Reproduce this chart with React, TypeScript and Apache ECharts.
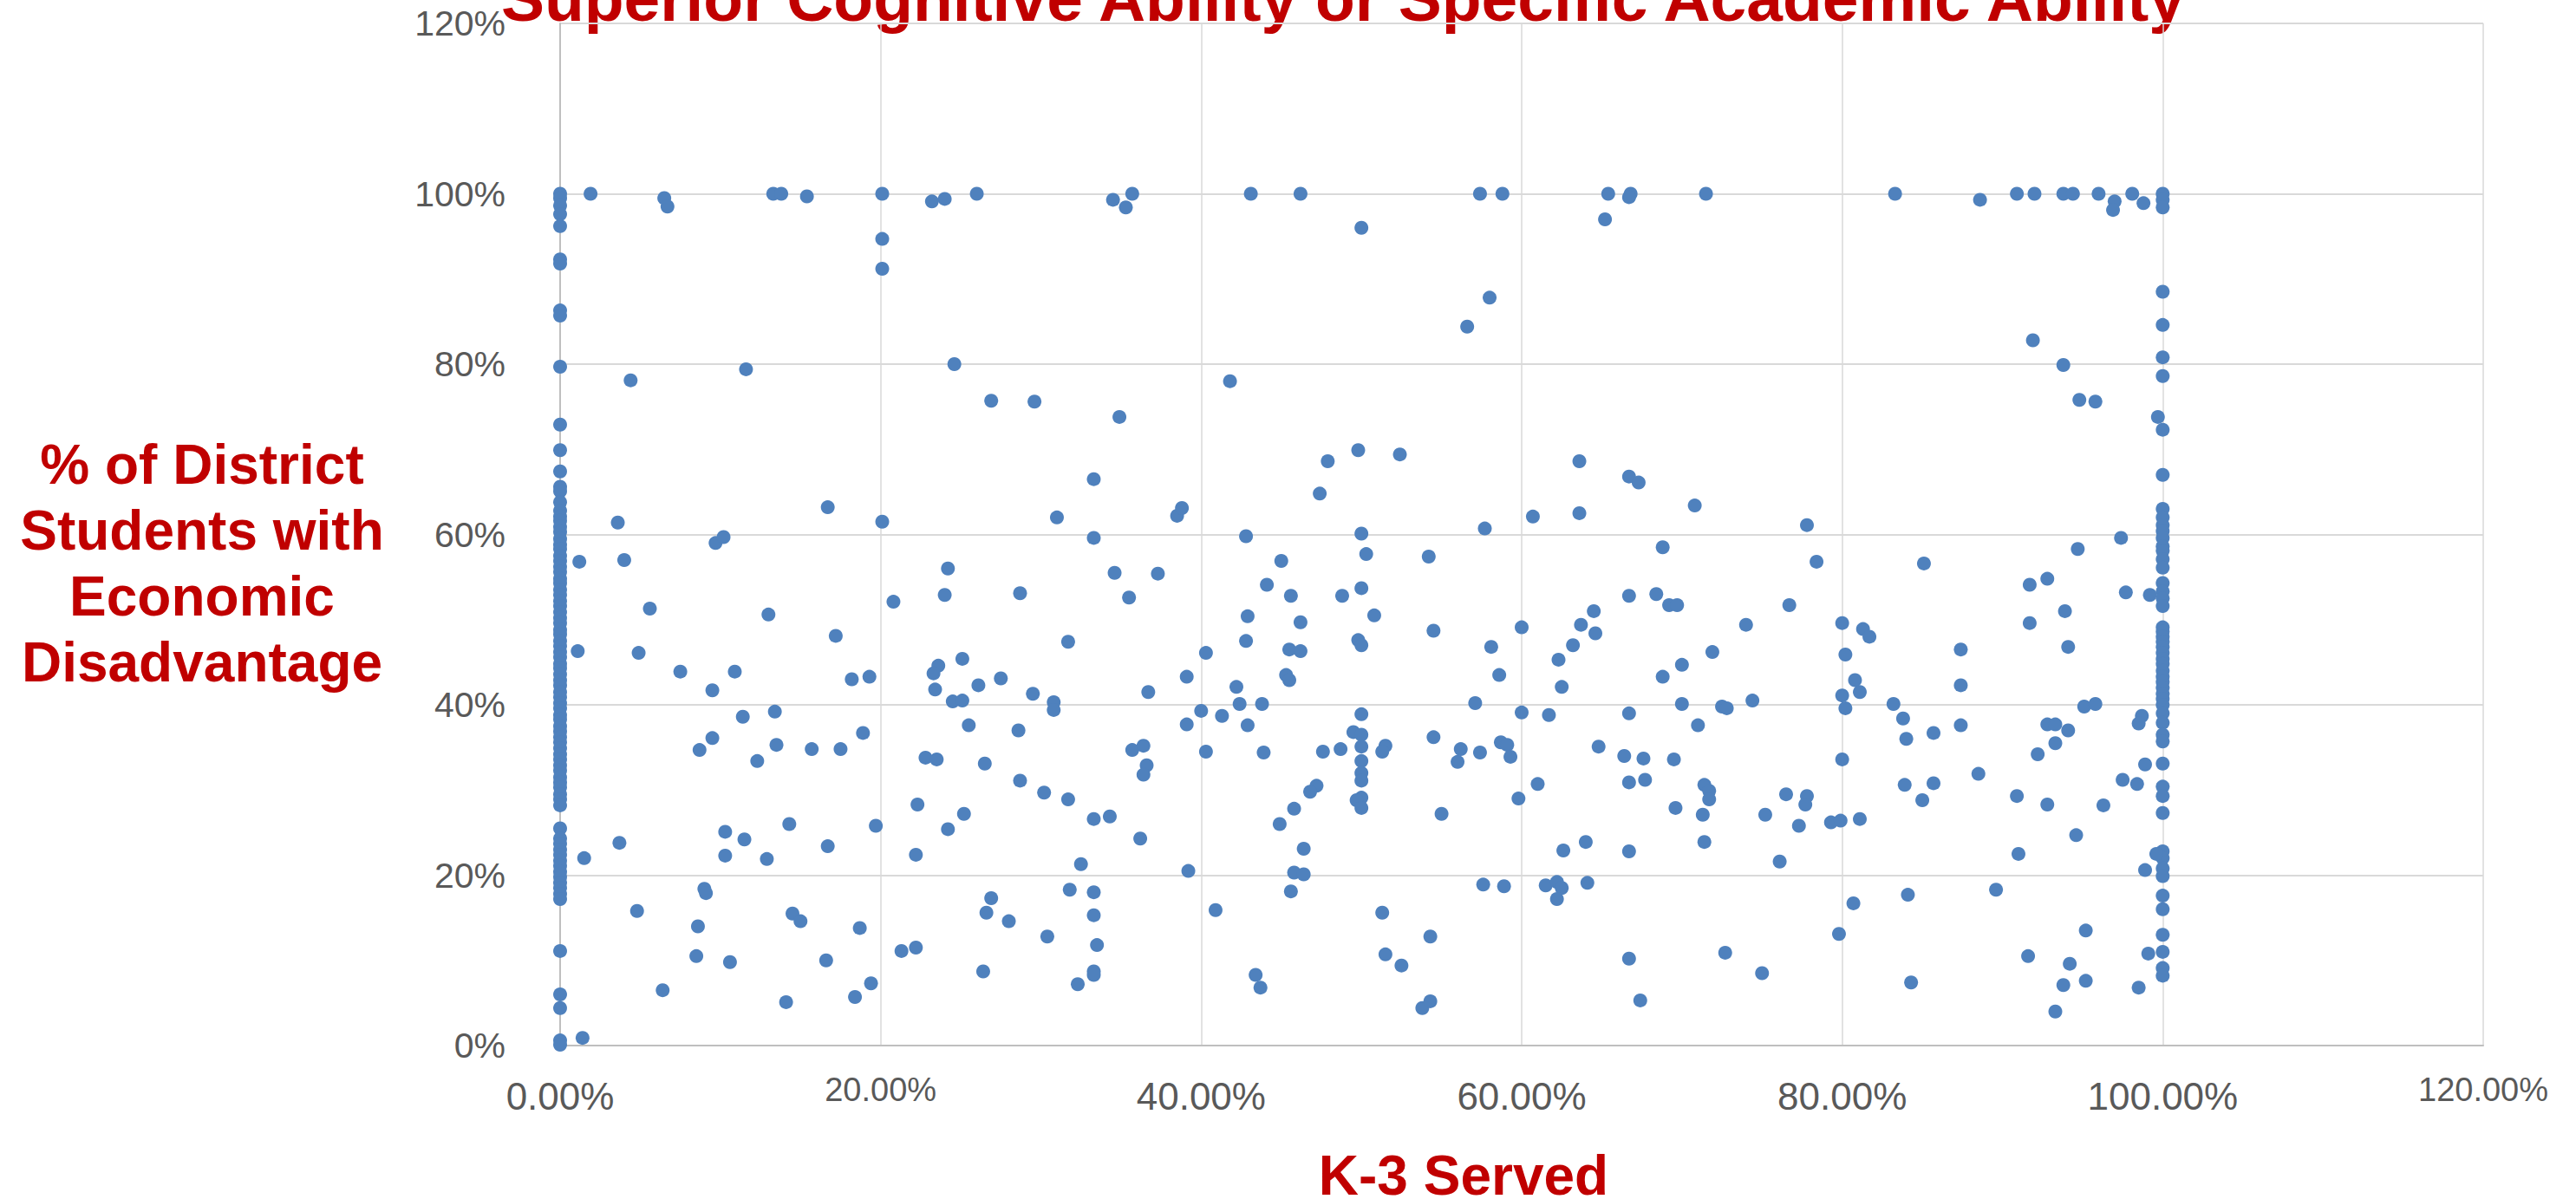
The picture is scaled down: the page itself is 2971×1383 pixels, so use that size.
import React, { useEffect, useRef } from "react";
import * as echarts from "echarts";

// ---------- DATA ----------
const chartTitle = "Superior Cognitive Ability or Specific Academic Ability";
const xAxisTitle = "K-3 Served";
const yAxisTitle = "% of District\nStudents with\nEconomic\nDisadvantage";

const xTickLabels = ["0.00%", "20.00%", "40.00%", "60.00%", "80.00%", "100.00%", "120.00%"];
const xSmallTicks = ["20.00%", "120.00%"];
const yTickLabels = ["0%", "20%", "40%", "60%", "80%", "100%", "120%"];

// Districts with 0% K-3 served: % economically disadvantaged
const zeroServed: number[] = [
  100, 99.5, 98.6, 97.6, 96.2, 92.3, 91.8, 86.3, 85.7, 79.7, 72.9, 69.9, 67.4, 65.6, 65.1, 63.8,
  62.8, 62.1, 61.6, 60.9, 60.3, 59.5, 58.8, 58.3, 57.5, 56.9, 56.2, 55.6, 54.8, 54.3, 53.5, 52.9,
  52.2, 51.6, 50.9, 50.2, 49.6, 48.8, 48.3, 47.5, 46.9, 46.2, 45.6, 44.8, 44.3, 43.6, 42.9, 42.3,
  41.5, 40.9, 40.2, 39.6, 38.8, 38.3, 37.5, 36.9, 36.2, 35.6, 34.9, 34.2, 33.6, 32.9, 32.3, 31.5,
  30.9, 30.3, 29.5, 28.9, 28.2, 25.5, 24.3, 23.7, 23.0, 22.4, 21.7, 21.1, 20.4, 19.8, 19.1, 18.5,
  17.8, 17.2, 11.1, 6.0, 4.4, 0.6, 0.1,
];

// Districts with 100% K-3 served
const fullServed: number[] = [
  100, 99.3, 98.4, 88.5, 84.6, 80.8, 78.6, 72.3, 67.0, 63.0, 62.0, 61.1, 60.4, 59.6, 58.6, 58.1,
  57.1, 56.1, 54.3, 53.3, 52.5, 51.6, 49.1, 48.6, 48.0, 47.4, 46.8, 46.1, 45.4, 44.8, 44.0, 43.3,
  42.7, 42.0, 41.3, 40.7, 40.0, 39.0, 37.9, 36.5, 35.7, 33.1, 30.4, 29.3, 27.3, 22.8, 22.0, 20.8,
  19.9, 17.6, 16.0, 13.0, 11.0, 9.1, 8.2,
];

// Districts with partial K-3 service, [K-3 served %, econ. disadvantaged %], 0-41%
const partialLow: number[][] = [
  [1.9, 100], [6.5, 99.5], [6.7, 98.5], [13.3, 100], [13.8, 100], [15.4, 99.7], [20.1, 100], [23.2, 99.1],
  [24.0, 99.4], [26.0, 100], [34.5, 99.3], [35.3, 98.4], [35.7, 100], [20.1, 94.7], [20.1, 91.2],
  [4.4, 78.1], [11.6, 79.4], [24.6, 80.0], [26.9, 75.7], [29.6, 75.6], [34.9, 73.8], [33.3, 66.5],
  [16.7, 63.2], [3.6, 61.4], [20.1, 61.5], [31.0, 62.0], [38.5, 62.2], [38.8, 63.1], [9.7, 59.0],
  [10.2, 59.7], [33.3, 59.6], [1.2, 56.8], [4.0, 57.0], [24.2, 56.0], [34.6, 55.5], [37.3, 55.4],
  [24.0, 52.9], [28.7, 53.1], [35.5, 52.6], [20.8, 52.1], [5.6, 51.3], [13.0, 50.6], [17.2, 48.1],
  [31.7, 47.4], [1.1, 46.3], [4.9, 46.1], [40.3, 46.1], [25.1, 45.4], [7.5, 43.9], [10.9, 43.9],
  [23.6, 44.6], [23.3, 43.7], [18.2, 43.0], [19.3, 43.3], [27.5, 43.1], [26.1, 42.3], [39.1, 43.3],
  [9.5, 41.7], [23.4, 41.8], [29.5, 41.3], [36.7, 41.5], [24.5, 40.4], [25.1, 40.5], [30.8, 40.3],
  [30.8, 39.4], [40.0, 39.3], [11.4, 38.6], [13.4, 39.2], [25.5, 37.6], [28.6, 37.0], [39.1, 37.7],
  [18.9, 36.7], [9.5, 36.1], [8.7, 34.7], [13.5, 35.3], [15.7, 34.8], [17.5, 34.8], [35.7, 34.7],
  [36.4, 35.2], [40.3, 34.5], [12.3, 33.4], [22.8, 33.8], [23.5, 33.6], [26.5, 33.1], [36.6, 32.9],
  [36.4, 31.8], [28.7, 31.1], [30.2, 29.7], [31.7, 28.9], [22.3, 28.3], [25.2, 27.2], [33.3, 26.6],
  [34.3, 26.9], [14.3, 26.0], [19.7, 25.8], [24.2, 25.4], [10.3, 25.1], [11.5, 24.2], [36.2, 24.3],
  [3.7, 23.8], [16.7, 23.4], [22.2, 22.4], [1.5, 22.0], [10.3, 22.3], [12.9, 21.9], [32.5, 21.3],
  [39.2, 20.5], [9.0, 18.4], [9.1, 17.9], [31.8, 18.3], [33.3, 18.0], [26.9, 17.3], [4.8, 15.8],
  [26.6, 15.6], [14.5, 15.5], [15.0, 14.6], [33.3, 15.3], [28.0, 14.6], [40.9, 15.9], [8.6, 14.0],
  [18.7, 13.8], [30.4, 12.8], [33.5, 11.8], [21.3, 11.1], [22.2, 11.5], [8.5, 10.5], [10.6, 9.8],
  [16.6, 10.0], [26.4, 8.7], [33.3, 8.7], [33.3, 8.3], [6.4, 6.5], [19.4, 7.3], [32.3, 7.2],
  [18.4, 5.7], [14.1, 5.1], [1.4, 0.9],
];

// Districts with partial K-3 service, 41-100%
const partialHigh: number[][] = [
  [43.1, 100], [46.2, 100], [57.4, 100], [58.8, 100], [65.4, 100], [66.8, 100], [66.7, 99.6], [71.5, 100],
  [83.3, 100], [88.6, 99.3], [90.9, 100], [92.0, 100], [93.8, 100], [94.4, 100], [96.0, 100], [97.0, 99.1],
  [96.9, 98.1], [98.1, 100], [98.8, 98.9], [50.0, 96.0], [65.2, 97.0], [58.0, 87.8], [56.6, 84.4],
  [91.9, 82.8], [93.8, 79.9], [41.8, 78.0], [94.8, 75.8], [95.8, 75.6], [99.7, 73.8], [49.8, 69.9],
  [52.4, 69.4], [47.9, 68.6], [63.6, 68.6], [66.7, 66.8], [67.3, 66.1], [47.4, 64.8], [70.8, 63.4],
  [60.7, 62.1], [63.6, 62.5], [77.8, 61.1], [57.7, 60.7], [42.8, 59.8], [50.0, 60.1], [97.4, 59.6],
  [50.3, 57.7], [54.2, 57.4], [68.8, 58.5], [94.7, 58.3], [45.0, 56.9], [78.4, 56.8], [85.1, 56.6],
  [44.1, 54.1], [45.6, 52.8], [48.8, 52.8], [50.0, 53.7], [66.7, 52.8], [68.4, 53.0], [69.2, 51.7],
  [69.7, 51.7], [76.7, 51.7], [91.7, 54.1], [92.8, 54.8], [97.7, 53.2], [99.2, 52.9], [42.9, 50.4],
  [46.2, 49.7], [50.8, 50.5], [64.5, 51.0], [93.9, 51.0], [54.5, 48.7], [60.0, 49.1], [63.7, 49.4],
  [64.6, 48.4], [74.0, 49.4], [80.0, 49.6], [81.3, 48.9], [81.7, 48.0], [91.7, 49.6], [42.8, 47.5],
  [49.8, 47.6], [50.0, 47.0], [58.1, 46.8], [63.2, 47.0], [45.5, 46.5], [46.2, 46.3], [71.9, 46.2],
  [87.4, 46.5], [94.1, 46.8], [62.3, 45.3], [80.2, 45.9], [70.0, 44.7], [45.3, 43.5], [45.5, 42.9],
  [58.6, 43.5], [68.8, 43.3], [80.8, 42.9], [81.1, 41.5], [42.2, 42.1], [62.5, 42.1], [87.4, 42.3],
  [80.0, 41.1], [42.4, 40.1], [43.8, 40.1], [57.1, 40.2], [70.0, 40.1], [72.5, 39.8], [72.8, 39.6],
  [74.4, 40.5], [83.2, 40.1], [95.1, 39.8], [95.8, 40.1], [41.3, 38.7], [50.0, 38.9], [60.0, 39.1],
  [61.7, 38.8], [66.7, 39.0], [80.2, 39.6], [98.7, 38.7], [98.5, 37.8], [42.9, 37.6], [71.0, 37.6],
  [83.8, 38.4], [92.8, 37.7], [93.3, 37.7], [94.1, 37.0], [87.4, 37.6], [49.5, 36.8], [50.0, 36.5],
  [85.7, 36.7], [84.0, 36.0], [54.5, 36.2], [58.7, 35.6], [59.1, 35.3], [50.0, 35.1], [51.5, 35.2],
  [51.3, 34.5], [93.3, 35.5], [64.8, 35.1], [43.9, 34.4], [47.6, 34.5], [48.7, 34.8], [56.2, 34.8],
  [57.4, 34.4], [92.2, 34.2], [50.0, 33.4], [56.0, 33.3], [59.3, 33.9], [66.4, 34.0], [67.6, 33.7],
  [69.5, 33.6], [80.0, 33.6], [98.9, 33.0], [50.0, 32.0], [50.0, 31.1], [88.5, 31.9], [47.2, 30.5],
  [46.8, 29.8], [61.0, 30.7], [66.7, 30.9], [67.7, 31.2], [71.4, 30.6], [71.7, 29.9], [71.7, 28.9],
  [83.9, 30.6], [85.7, 30.8], [97.5, 31.2], [98.4, 30.7], [76.5, 29.5], [77.8, 29.3], [77.7, 28.3],
  [50.0, 29.1], [49.7, 28.8], [50.0, 27.9], [59.8, 29.0], [90.9, 29.3], [85.0, 28.8], [92.8, 28.3],
  [96.3, 28.2], [45.8, 27.8], [55.0, 27.2], [69.6, 27.9], [71.3, 27.1], [75.2, 27.1], [77.3, 25.8],
  [79.3, 26.2], [79.9, 26.4], [81.1, 26.6], [44.9, 26.0], [94.6, 24.7], [46.4, 23.1], [62.6, 22.9],
  [64.0, 23.9], [66.7, 22.8], [71.4, 23.9], [91.0, 22.5], [76.1, 21.6], [98.9, 20.6], [99.6, 22.5],
  [45.8, 20.3], [46.4, 20.1], [45.6, 18.1], [57.6, 18.9], [58.9, 18.7], [61.5, 18.8], [62.2, 19.2],
  [62.5, 18.5], [64.1, 19.1], [62.2, 17.2], [84.1, 17.7], [89.6, 18.3], [51.3, 15.6], [80.7, 16.7],
  [54.3, 12.8], [79.8, 13.1], [95.2, 13.5], [51.5, 10.7], [52.5, 9.4], [66.7, 10.2], [72.7, 10.9],
  [75.0, 8.5], [91.6, 10.5], [94.2, 9.6], [99.1, 10.8], [43.4, 8.3], [43.7, 6.8], [84.3, 7.4],
  [93.8, 7.1], [95.2, 7.6], [98.5, 6.8], [53.8, 4.4], [54.3, 5.2], [67.4, 5.3], [93.3, 4.0],
];

// ---------- STYLE ----------
const RED = "#C00000";
const BLUE = "#4F81BD";
const FONT = "'Liberation Sans', Arial, sans-serif";

export default function App() {
  const ref = useRef<HTMLDivElement>(null);

  useEffect(() => {
    if (!ref.current) return;
    const chart = echarts.init(ref.current, null, { renderer: "svg" });

    const points: number[][] = [
      ...zeroServed.map((y) => [0, y]),
      ...fullServed.map((y) => [100, y]),
      ...partialLow,
      ...partialHigh,
    ];

    chart.setOption({
      animation: false,
      backgroundColor: "#ffffff",
      textStyle: { fontFamily: FONT },
      grid: { left: 646, right: 107, top: 27, bottom: 177, containLabel: false },
      xAxis: {
        type: "value",
        min: 0,
        max: 120,
        interval: 20,
        axisLine: { show: true, lineStyle: { color: "#bfbfbf", width: 2 } },
        axisTick: { show: false },
        splitLine: { show: true, lineStyle: { color: "#d9d9d9", width: 1.5 } },
        axisLabel: {
          margin: 32,
          color: "#595959",
          fontFamily: FONT,
          formatter: (v: number) => {
            const lbl = xTickLabels[Math.round(v / 20)];
            return xSmallTicks.includes(lbl) ? `{s|${lbl}}` : `{b|${lbl}}`;
          },
          rich: {
            b: { fontSize: 44, lineHeight: 52, color: "#595959", fontFamily: FONT },
            s: { fontSize: 38, lineHeight: 38, color: "#595959", fontFamily: FONT },
          },
        },
      },
      yAxis: {
        type: "value",
        min: 0,
        max: 120,
        interval: 20,
        axisLine: { show: true, lineStyle: { color: "#bfbfbf", width: 2 } },
        axisTick: { show: false },
        splitLine: { show: true, lineStyle: { color: "#d9d9d9", width: 2 } },
        axisLabel: {
          margin: 63,
          fontSize: 41,
          color: "#595959",
          fontFamily: FONT,
          formatter: (v: number) => yTickLabels[Math.round(v / 20)],
        },
      },
      graphic: [
        {
          type: "text",
          x: 1549,
          y: -2,
          style: {
            text: chartTitle,
            font: `bold 75px ${FONT}`,
            fill: RED,
            align: "center",
            verticalAlign: "middle",
          },
        },
        {
          type: "text",
          x: 233,
          y: 650,
          style: {
            text: yAxisTitle,
            font: `bold 64px ${FONT}`,
            fill: RED,
            align: "center",
            verticalAlign: "middle",
            lineHeight: 76,
          },
        },
        {
          type: "text",
          x: 1688,
          y: 1356,
          style: {
            text: xAxisTitle,
            font: `bold 64px ${FONT}`,
            fill: RED,
            align: "center",
            verticalAlign: "middle",
            lineHeight: 50,
          },
        },
      ],
      series: [
        {
          type: "scatter",
          data: points,
          symbol: "circle",
          symbolSize: 16,
          itemStyle: { color: BLUE, opacity: 1 },
          emphasis: { disabled: true },
        },
      ],
    });

    return () => chart.dispose();
  }, []);

  return (
    <div
      ref={ref}
      style={{ position: "fixed", left: 0, top: 0, width: 2971, height: 1383, background: "#fff" }}
    />
  );
}
